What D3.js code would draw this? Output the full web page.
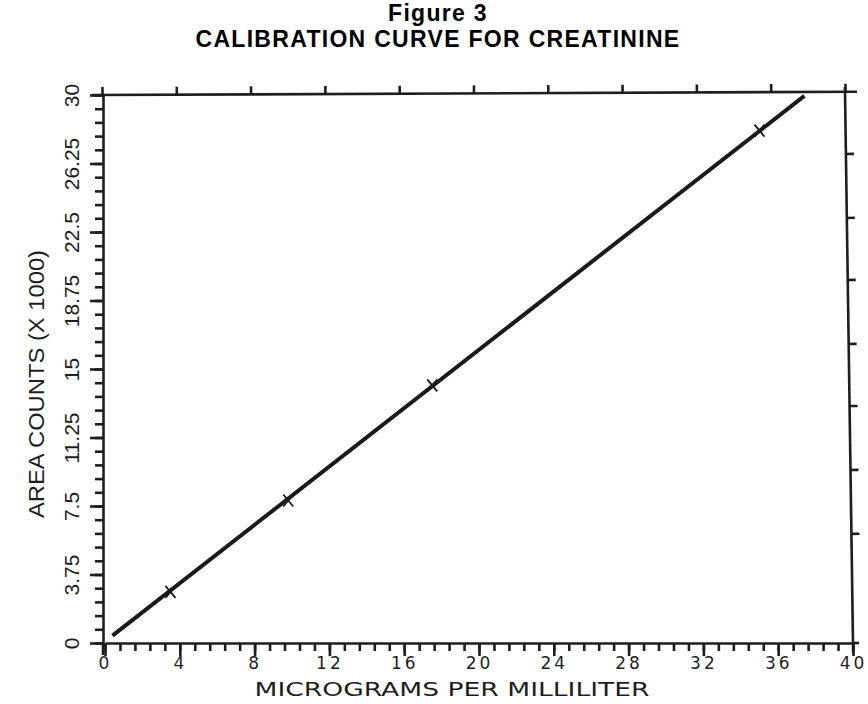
<!DOCTYPE html>
<html>
<head>
<meta charset="utf-8">
<script src="https://cdn.jsdelivr.net/npm/d3@7"></script>
<style>
    body { margin: 0; background: #fff; }
    svg { display: block; }
    .axis path, .axis line { stroke: #1e1e1e; stroke-width: 2.6; }
    .axis text { fill: #1e1e1e; }
    .title { font: bold 23px "Liberation Sans", Arial, sans-serif; letter-spacing: 1.3px; fill: #000; }
</style>
</head>
<body>
<div id="chart"></div>
<script>
// calibration points (x marks)
const conc = [3.5, 9.8, 17.5, 35.0]
const counts = [2.8, 7.8, 14.1, 28.05]
// fitted line end points
const fitX = [0.4, 37.4]
const fitY = [0.4, 29.95]
// tick labels
const xTicks = [0, 4, 8, 12, 16, 20, 24, 28, 32, 36, 40]
const yTicks = [0, 3.75, 7.5, 11.25, 15, 18.75, 22.5, 26.25, 30]
const rightTicks = [6.0, 9.5, 13.0, 16.4, 19.9, 23.3, 26.8]

const W = 868, H = 704
const svg = d3.select('#chart').append('svg')
    .attr('width', W)
    .attr('height', H)

const xScale = d3.scaleLinear().domain([0, 40]).range([105, 853])
const yScale = d3.scaleLinear().domain([0, 30]).range([643, 95])
const xTop = d3.scaleLinear().domain([0, 40]).range([102, 845])

const minorX = d3.range(0, 40.01, 0.8)
const minorY = d3.range(0, 30.01, 0.75)

//Title
svg.append('text')
    .attr('class', 'title')
    .attr('x', 438).attr('y', 21)
    .attr('text-anchor', 'middle')
    .text('Figure 3')
svg.append('text')
    .attr('class', 'title')
    .attr('x', 438).attr('y', 47)
    .attr('text-anchor', 'middle')
    .text('CALIBRATION CURVE FOR CREATININE')
//End Title

//Bottom axis: minor then major ticks
svg.append('g')
    .attr('class', 'axis')
    .attr('transform', `translate(0,${yScale(0)})`)
    .call(d3.axisBottom(xScale).tickValues(minorX).tickSize(8).tickSizeOuter(0).tickFormat(''))
const xAxis = svg.append('g')
    .attr('class', 'axis')
    .attr('transform', `translate(0,${yScale(0)})`)
    .call(d3.axisBottom(xScale).tickValues(xTicks).tickSize(13).tickSizeOuter(0).tickFormat(d3.format('d')))
xAxis.select('.domain').remove()
xAxis.selectAll('text')
    .attr('y', 14)
    .style('font', '17px "DejaVu Sans", sans-serif')
    .style('letter-spacing', '3px')

//Left axis
svg.append('g')
    .attr('class', 'axis')
    .attr('transform', `translate(${xScale(0) - 2},0)`)
    .call(d3.axisLeft(yScale).tickValues(minorY).tickSize(8).tickSizeOuter(0).tickFormat(''))
const yAxis = svg.append('g')
    .attr('class', 'axis')
    .attr('transform', `translate(${xScale(0) - 2},0)`)
    .call(d3.axisLeft(yScale).tickValues(yTicks).tickSize(13).tickSizeOuter(0).tickFormat(d => d))
yAxis.select('.domain').remove()
yAxis.selectAll('text')
    .attr('x', 0).attr('y', 0).attr('dy', 0)
    .attr('text-anchor', 'middle')
    .attr('transform', 'translate(-24,0) rotate(-90)')
    .style('font', '21px "Liberation Sans Narrow", "Liberation Sans", sans-serif')
// left spine runs a bit below the x axis
svg.append('line')
    .attr('x1', xScale(0) - 2).attr('x2', xScale(0) - 2)
    .attr('y1', yScale(0)).attr('y2', yScale(0) + 12)
    .attr('stroke', '#1e1e1e').attr('stroke-width', 2.6)

//Top axis
const topAxis = svg.append('g')
    .attr('class', 'axis')
    .attr('transform', `translate(0,${yScale(30)}) rotate(-0.25, ${xTop(0)}, 0)`)
    .call(d3.axisTop(xTop).tickValues(xTicks).tickSize(8).tickSizeOuter(0).tickFormat(''))
topAxis.select('.domain').attr('d', `M${xTop(0) - 10},0H${xTop(40) + 12}`)

//Right axis, slightly tilted like the scan
const rightAxis = svg.append('g')
    .attr('class', 'axis')
    .attr('transform', `rotate(-0.83, ${xScale(40)}, ${yScale(0)}) translate(${xScale(40)},0)`)
    .call(d3.axisRight(yScale).tickValues(rightTicks).tickSize(8).tickSizeOuter(0).tickFormat(''))
rightAxis.select('.domain').attr('d', `M0,${yScale(30) - 8}V${yScale(0) + 10}`)
// x axis extends a little past the right spine
svg.append('line')
    .attr('x1', xScale(40)).attr('x2', xScale(40) + 6)
    .attr('y1', yScale(0)).attr('y2', yScale(0))
    .attr('stroke', '#1e1e1e').attr('stroke-width', 2.6)

//Axis titles
svg.append('text')
    .attr('x', 452).attr('y', 696)
    .attr('text-anchor', 'middle')
    .attr('textLength', 395)
    .attr('lengthAdjust', 'spacingAndGlyphs')
    .style('font', '20px "DejaVu Sans", sans-serif')
    .style('fill', '#1e1e1e')
    .text('MICROGRAMS PER MILLILITER')
svg.append('text')
    .attr('transform', 'translate(44,384) rotate(-90)')
    .attr('text-anchor', 'middle')
    .attr('textLength', 268)
    .attr('lengthAdjust', 'spacingAndGlyphs')
    .style('font', '22px "Liberation Sans Narrow", "Liberation Sans", sans-serif')
    .style('fill', '#1e1e1e')
    .text('AREA COUNTS (X 1000)')

//Fitted line
const line = d3.line()
    .x((d, i) => xScale(fitX[i]))
    .y((d, i) => yScale(fitY[i]))
svg.append('path')
    .datum(fitX)
    .attr('d', line)
    .attr('fill', 'none')
    .attr('stroke', '#1a1a1a')
    .attr('stroke-width', 4)

//Point marks
const pts = conc.map((c, i) => ({ x: c, y: counts[i] }))
svg.selectAll('.mark')
    .data(pts)
    .enter()
        .append('path')
        .attr('class', 'mark')
        .attr('transform', d => `translate(${xScale(d.x)},${yScale(d.y)})`)
        .attr('d', 'M-5,-6L5,6M-5,6L5,-6')
        .attr('stroke', '#1a1a1a')
        .attr('stroke-width', 1.8)
</script>
</body>
</html>
